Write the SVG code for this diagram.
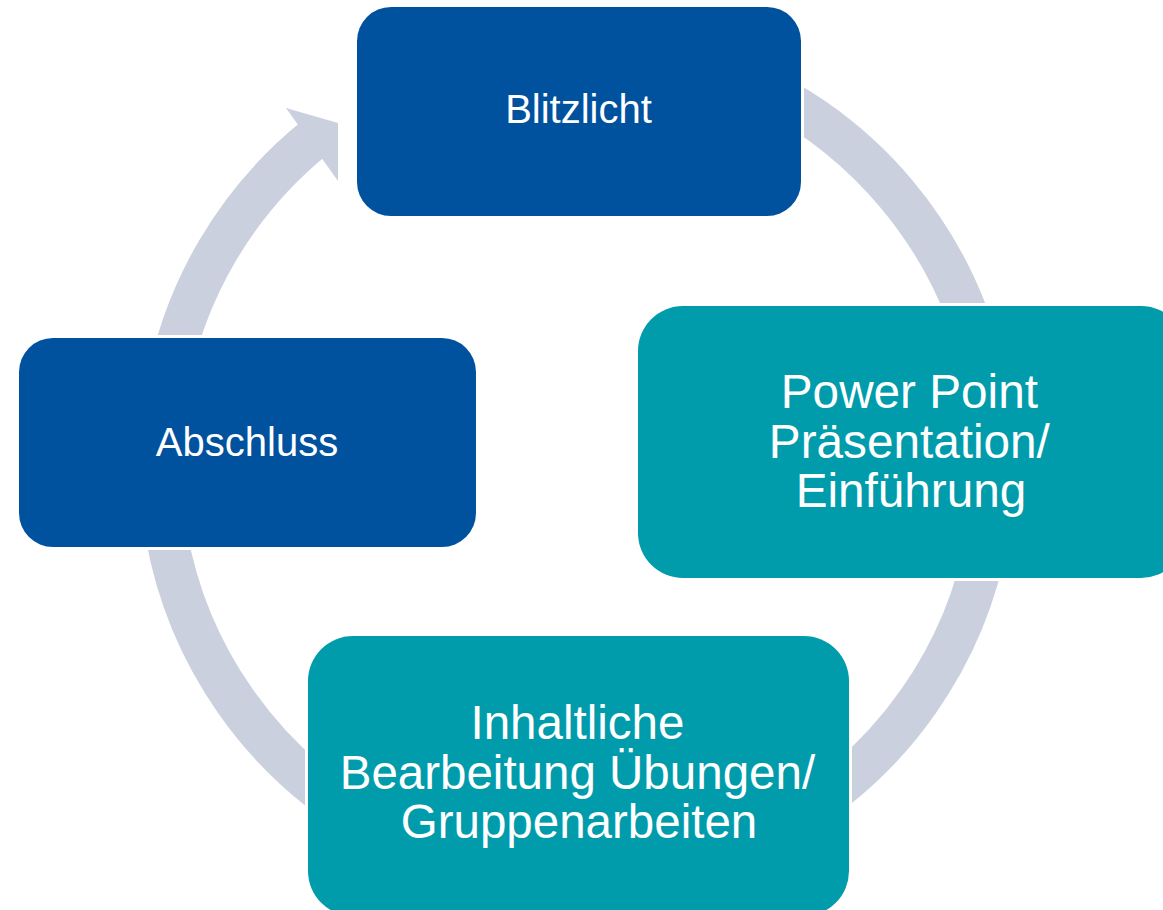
<svg xmlns="http://www.w3.org/2000/svg" width="1163" height="910" viewBox="0 0 1163 910">
  <style>
    .ring { fill: none; stroke: #CBD0DF; stroke-width: 42; stroke-linecap: butt; }
    .head { fill: #CBD0DF; }
    .box { stroke: #FFFFFF; stroke-width: 6; paint-order: stroke; }
    .dark { fill: #00519E; }
    .teal { fill: #009CAC; }
    .lbl { font-family: "Liberation Sans", Arial, sans-serif; fill: #FFFFFF; text-anchor: middle; }
  </style>
  <rect width="1163" height="910" fill="#FFFFFF"/>
  <g id="connectors">
    <path class="ring" d="M 719.6 70.1 A 417 417 0 0 1 987.7 389.6"/>
    <path class="ring" d="M 987.7 534.4 A 417 417 0 0 1 785.5 823.1"/>
    <path class="ring" d="M 368.5 823.1 A 417 417 0 0 1 166.3 534.4"/>
    <path class="ring" d="M 166.3 389.6 A 417 417 0 0 1 314.6 137.9"/>
    <polygon class="head" points="286,108 338,123 338,181"/>
  </g>
  <g id="node-blitzlicht">
    <rect class="box dark" x="357" y="7" width="444" height="209" rx="34" ry="34"/>
    <text class="lbl" x="578.5" y="123" font-size="40">Blitzlicht</text>
  </g>
  <g id="node-powerpoint">
    <rect class="box teal" x="638" y="306" width="548" height="272" rx="45" ry="45"/>
    <text class="lbl" font-size="47.7">
      <tspan x="916" y="408">Power Point</tspan>
      <tspan x="916" y="458">Präsentation/</tspan>
      <tspan x="911" y="507">Einführung</tspan>
    </text>
  </g>
  <g id="node-inhaltliche">
    <rect class="box teal" x="308" y="636" width="541" height="280" rx="45" ry="45"/>
    <text class="lbl" font-size="47.5">
      <tspan x="584" y="739">Inhaltliche</tspan>
      <tspan x="584" y="789">Bearbeitung Übungen/</tspan>
      <tspan x="579" y="838">Gruppenarbeiten</tspan>
    </text>
  </g>
  <g id="node-abschluss">
    <rect class="box dark" x="19" y="338" width="457" height="209" rx="34" ry="34"/>
    <text class="lbl" x="247" y="456" font-size="40">Abschluss</text>
  </g>
</svg>
